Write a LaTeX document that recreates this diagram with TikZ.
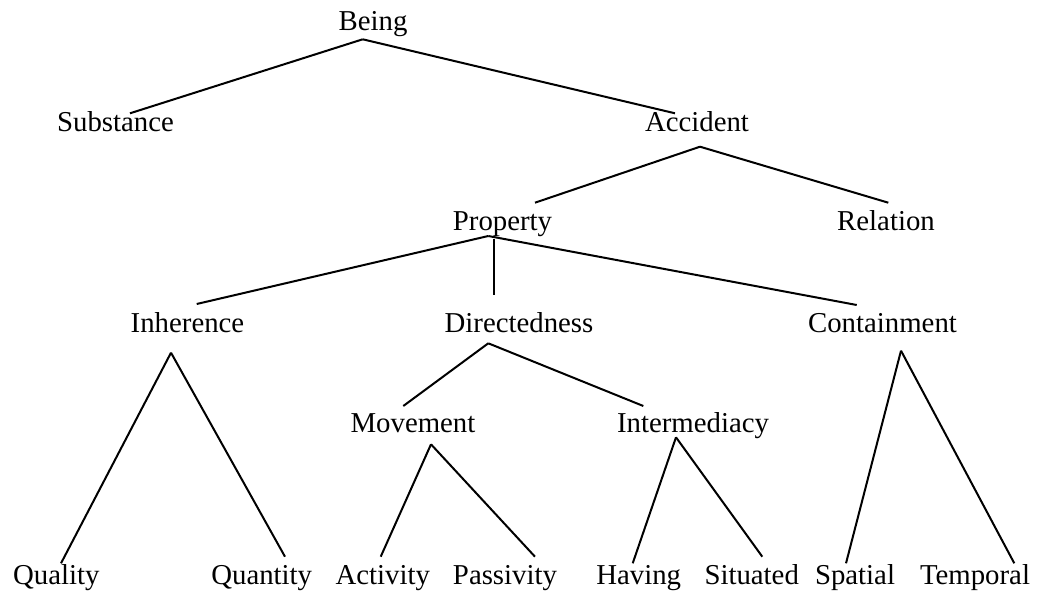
\documentclass[tikz,border=0pt]{standalone}
\usepackage{fontspec}
\setmainfont{Liberation Serif}

\tikzset{every picture/.style={line width=1pt}}
\tikzset{term/.style={anchor=base,inner sep=0.75pt,font=\fontsize{14.4}{17}\selectfont}}

\begin{document}
\begin{tikzpicture}[x=0.5pt,y=-0.5pt]
\useasboundingbox (0,0) rectangle (1039,593);

% Text Node
\draw (373,30.7) node [term] (being) {Being};
% Text Node
\draw (115.5,131.7) node [term] (substance) {Substance};
% Text Node
\draw (697,131.7) node [term] (accident) {Accident};
% Text Node
\draw (502.5,231) node [term] (property) {Property};
% Text Node
\draw (886,231) node [term] (relation) {Relation};
% Text Node
\draw (187.5,332.3) node [term] (inherence) {Inherence};
% Text Node
\draw (519,332.3) node [term] (directedness) {Directedness};
% Text Node
\draw (882.5,332.3) node [term] (containment) {Containment};
% Text Node
\draw (413,432.7) node [term] (movement) {Movement};
% Text Node
\draw (693,432.7) node [term] (intermediacy) {Intermediacy};
% Text Node
\draw (56.3,584) node [term] (quality) {Quality};
% Text Node
\draw (261.7,584) node [term] (quantity) {Quantity};
% Text Node
\draw (382.7,584) node [term] (activity) {Activity};
% Text Node
\draw (505,584) node [term] (passivity) {Passivity};
% Text Node
\draw (638.7,584) node [term] (having) {Having};
% Text Node
\draw (751.7,584) node [term] (situated) {Situated};
% Text Node
\draw (855,584) node [term] (spatial) {Spatial};
% Text Node
\draw (975,584) node [term] (temporal) {Temporal};

%Straight Lines
\draw ([shift={(-10.3,8.6)}]being.base) -- ([shift={(14.5,-18.4)}]substance.base);
\draw ([shift={(-10.3,8.6)}]being.base) -- ([shift={(-22,-18.4)}]accident.base);
%Straight Lines
\draw ([shift={(3,15)}]accident.base) -- ([shift={(32.5,-28.3)}]property.base);
\draw ([shift={(3,15)}]accident.base) -- ([shift={(2.3,-28.3)}]relation.base);
%Straight Lines
\draw ([shift={(-14.2,5)}]property.base) -- ([shift={(9.2,-28.3)}]inherence.base);
\draw ([shift={(-8.8,7.7)}]property.base) -- ([shift={(-25.3,-37.3)}]directedness.base);
\draw ([shift={(-14.2,5)}]property.base) -- ([shift={(-25.8,-27.3)}]containment.base);
%Straight Lines
\draw ([shift={(-16.5,20.4)}]inherence.base) -- ([shift={(4.7,-20.7)}]quality.base);
\draw ([shift={(-16.5,20.4)}]inherence.base) -- ([shift={(23.3,-27.3)}]quantity.base);
%Straight Lines
\draw ([shift={(-30.7,11)}]directedness.base) -- ([shift={(-9.7,-26.7)}]movement.base);
\draw ([shift={(-30.7,11)}]directedness.base) -- ([shift={(-49.7,-26.7)}]intermediacy.base);
%Straight Lines
\draw ([shift={(18,11.6)}]movement.base) -- ([shift={(-2,-27.3)}]activity.base);
\draw ([shift={(18,11.6)}]movement.base) -- ([shift={(30,-27.3)}]passivity.base);
%Straight Lines
\draw ([shift={(-17,4.6)}]intermediacy.base) -- ([shift={(-6,-20.7)}]having.base);
\draw ([shift={(-17,4.6)}]intermediacy.base) -- ([shift={(10.6,-27.3)}]situated.base);
%Straight Lines
\draw ([shift={(18.5,18.4)}]containment.base) -- ([shift={(-9,-20.7)}]spatial.base);
\draw ([shift={(18.5,18.4)}]containment.base) -- ([shift={(39.3,-20.7)}]temporal.base);

\end{tikzpicture}
\end{document}
